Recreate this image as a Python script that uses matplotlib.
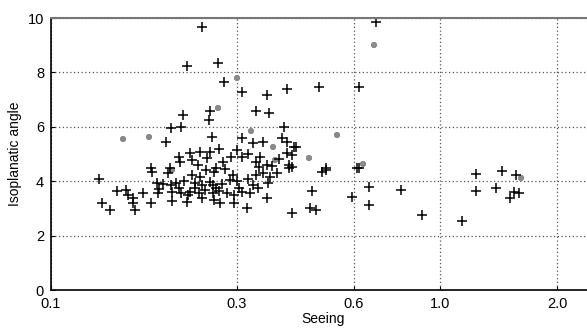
import numpy as np
import matplotlib.pyplot as plt
from matplotlib.ticker import FixedLocator, NullLocator

plt.rcParams['font.family'] = ['Liberation Sans', 'DejaVu Sans']

# seeing (arcsec) and isoplanatic angle (arcsec), black crosses
seeing = [0.245, 0.224, 0.268, 0.279, 0.310, 0.358, 0.403, 0.256, 0.337, 0.364,
          0.218, 0.203, 0.216, 0.254, 0.398, 0.198, 0.259, 0.310, 0.330, 0.350,
          0.393, 0.405, 0.425, 0.213, 0.227, 0.241, 0.256, 0.230, 0.238, 0.251,
          0.276, 0.310, 0.337, 0.358, 0.403, 0.410, 0.266, 0.181, 0.202,
          0.686, 0.489, 0.620, 0.422, 0.415, 0.510, 0.613, 0.417, 0.498, 0.510,
          0.620, 0.469, 0.657, 0.794, 0.595, 0.657, 0.464, 0.480, 0.415, 0.899,
          1.14, 1.236, 1.44, 1.57, 1.236, 1.39, 1.55, 1.59, 1.51,
          0.133, 0.135, 0.142, 0.148, 0.156, 0.158, 0.162, 0.162, 0.164, 0.172,
          0.181, 0.182, 0.187, 0.188, 0.194, 0.203, 0.210, 0.204, 0.216, 0.224,
          0.227, 0.230, 0.234, 0.241, 0.244, 0.248, 0.245, 0.256, 0.260, 0.263,
          0.266, 0.263, 0.271, 0.283, 0.288, 0.293, 0.296, 0.305, 0.318, 0.324,
          0.330, 0.337, 0.350, 0.343, 0.358, 0.410,
          0.213, 0.220, 0.235, 0.250, 0.275, 0.280, 0.300, 0.310, 0.320, 0.270,
          0.295, 0.260, 0.240, 0.225, 0.205, 0.190, 0.200, 0.215, 0.270, 0.290,
          0.300, 0.320, 0.345, 0.370, 0.385, 0.380, 0.360, 0.340, 0.365]
angle = [9.67, 8.24, 8.35, 7.65, 7.30, 7.17, 7.40, 6.60, 6.60, 6.50,
         6.43, 5.95, 6.00, 6.25, 6.00, 5.45, 5.63, 5.58, 5.40, 5.45,
         5.58, 5.45, 5.27, 4.90, 5.03, 5.07, 5.07, 4.78, 4.60, 4.85,
         4.70, 4.90, 4.70, 4.60, 5.03, 4.60, 4.50, 4.50, 4.50,
         9.85, 7.46, 7.46, 5.27, 4.96, 4.50, 4.50, 4.52, 4.35, 4.40,
         4.48, 3.64, 3.79, 3.68, 3.42, 3.13, 3.01, 2.94, 2.83, 2.76,
         2.54, 4.26, 4.38, 4.23, 3.64, 3.75, 3.60, 3.57, 3.38,
         4.08, 3.20, 2.94, 3.64, 3.68, 3.49, 3.38, 3.20, 2.94, 3.57,
         3.20, 4.34, 3.93, 3.57, 3.90, 3.86, 3.93, 3.27, 3.57, 3.24,
         3.60, 4.23, 3.75, 4.16, 3.86, 3.68, 3.38, 3.97, 3.57, 4.34,
         3.75, 3.31, 3.20, 3.57, 4.04, 4.23, 3.20, 3.75, 3.00, 3.57,
         3.86, 4.23, 4.30, 4.52, 3.38, 4.48,
         3.75, 4.00, 3.95, 4.40, 3.90, 4.45, 4.00, 3.60, 4.10, 3.65,
         3.50, 3.85, 3.55, 3.50, 3.60, 3.70, 4.30, 4.70, 5.20, 4.90,
         5.15, 5.00, 4.90, 4.55, 4.80, 4.30, 3.95, 3.75, 4.15]

# grey points
seeing_g = [0.300, 0.268, 0.153, 0.179, 0.326, 0.371, 0.376, 0.678, 0.544,
            0.461, 0.632, 0.204, 1.61]
angle_g = [7.80, 6.70, 5.55, 5.62, 5.85, 5.27, 4.78, 9.00, 5.70,
           4.85, 4.65, 4.41, 4.12]

xticks = [0.1, 0.3, 0.6, 1.0, 2.0]
xticklabels = ['0.1', '0.3', '0.6', '1.0', '2.0']
yticks = [0, 2, 4, 6, 8, 10]

fig = plt.figure(figsize=(5.87, 3.30), dpi=100)
ax = fig.add_axes([0.0869, 0.1212, 0.9268, 0.824])

ax.plot(seeing_g, angle_g, '+', color='#8a8a8a', markersize=5, mew=2.6)
ax.plot(seeing, angle, '+', color='black', markersize=7, mew=1.1)

ax.set_xscale('log')
ax.set_xlim(0.1, 2.5)
ax.set_ylim(0, 10)
ax.xaxis.set_major_locator(FixedLocator(xticks))
ax.xaxis.set_minor_locator(NullLocator())
ax.set_xticklabels(xticklabels)
ax.set_yticks(yticks)
ax.tick_params(direction='in', length=3, labelsize=10.5, pad=5)
ax.grid(True, linestyle=(0, (1, 2)), color='#555555', linewidth=0.9)

for s in ['left', 'bottom']:
    ax.spines[s].set_linewidth(1.2)
ax.spines['top'].set_color('#777777')
ax.spines['top'].set_linewidth(1.5)

ax.set_xlabel('Seeing', fontsize=10, labelpad=1)
ax.set_ylabel('Isoplanatic angle', fontsize=10, labelpad=4)

fig.savefig('out.png', dpi=100)
